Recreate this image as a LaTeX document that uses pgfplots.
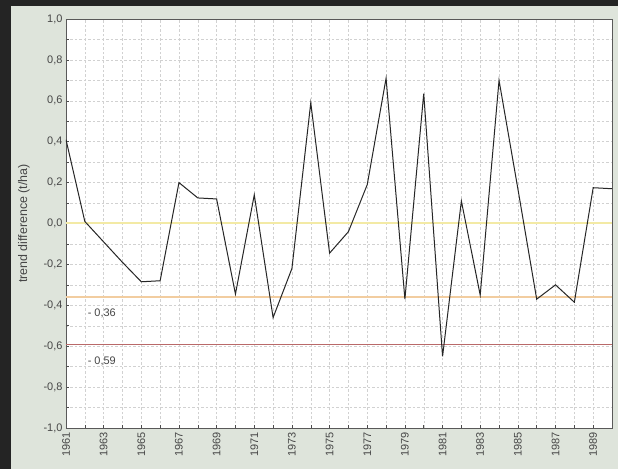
\documentclass[border=0pt]{standalone}
\usepackage{pgfplots}
\pgfplotsset{compat=1.18}
\usepackage{fontspec}
\setmainfont{Liberation Sans}
\definecolor{darkbg}{RGB}{36,36,36}
\definecolor{panel}{RGB}{222,228,219}
\definecolor{txt}{RGB}{70,70,70}
\definecolor{ylwline}{RGB}{243,234,165}
\definecolor{orgline}{RGB}{242,205,160}
\definecolor{redline}{RGB}{185,105,105}
\begin{document}
\begin{tikzpicture}
\fill[darkbg] (-66bp,-41bp) rectangle (552bp,428bp);
\fill[panel] (-55bp,-41bp) rectangle (552bp,422bp);
\begin{axis}[
    scale only axis,
    width=546bp, height=409bp,
    xmin=1961, xmax=1990,
    ymin=-1, ymax=1,
    axis background/.style={fill=white},
    axis line style={draw=black!65, line width=0.6bp},
    xtick={1961,1963,...,1989},
    minor xtick={1962,1964,...,1990},
    ytick={-1,-0.8,...,1.01},
    minor ytick={-0.9,-0.7,...,0.95},
    xtick pos=left, ytick pos=left,
    tick align=inside,
    major tick length=3bp, minor tick length=3bp,
    tick style={black!70, line width=0.5bp},
    grid=both,
    major grid style={black!18, dash pattern=on 2.5bp off 2bp, line width=0.4bp},
    minor grid style={black!18, dash pattern=on 2.5bp off 2bp, line width=0.4bp},
    /pgf/number format/assume math mode=true,
    x tick label style={/pgf/number format/1000 sep={}, rotate=90, anchor=east, font=\fontsize{11}{12}\selectfont, text=txt, xshift=-1bp},
    y tick label style={/pgf/number format/.cd, fixed, fixed zerofill, precision=1, use comma, /tikz/.cd, font=\fontsize{11}{12}\selectfont, text=txt},
    ylabel={trend difference (t/ha)},
    ylabel style={at={(axis description cs:-0.077,0.5)}, anchor=center, font=\fontsize{12.5}{14}\selectfont, text=txt},
]
\addplot[color=orgline, line width=1.8bp, forget plot] coordinates {(1961,-0.36) (1990,-0.36)};
\addplot[color=redline, line width=1.2bp, forget plot] coordinates {(1961,-0.59) (1990,-0.59)};
\addplot[color=ylwline, line width=1.8bp, forget plot] coordinates {(1961,0.001) (1975,0.001) (1990,0.001)};
\addplot[black!85, line width=1bp, mark=none] coordinates {
    (1961,0.41) (1962,0.01) (1963,-0.09) (1964,-0.19) (1965,-0.285)
    (1966,-0.28) (1967,0.20) (1968,0.125) (1969,0.12) (1970,-0.345)
    (1971,0.14) (1972,-0.46) (1973,-0.22) (1974,0.59) (1975,-0.145)
    (1976,-0.04) (1977,0.19) (1978,0.71) (1979,-0.37) (1980,0.635)
    (1981,-0.65) (1982,0.11) (1983,-0.35) (1984,0.70) (1985,0.17)
    (1986,-0.37) (1987,-0.30) (1988,-0.385) (1989,0.175) (1990,0.17)
};
\node[font=\fontsize{11}{12}\selectfont, text=txt] at (axis cs:1962.9,-0.44) {- 0,36};
\node[font=\fontsize{11}{12}\selectfont, text=txt] at (axis cs:1962.9,-0.675) {- 0,59};
\end{axis}
\pgfresetboundingbox
\useasboundingbox (-66bp,-41bp) rectangle (552bp,428bp);
\end{tikzpicture}
\end{document}
